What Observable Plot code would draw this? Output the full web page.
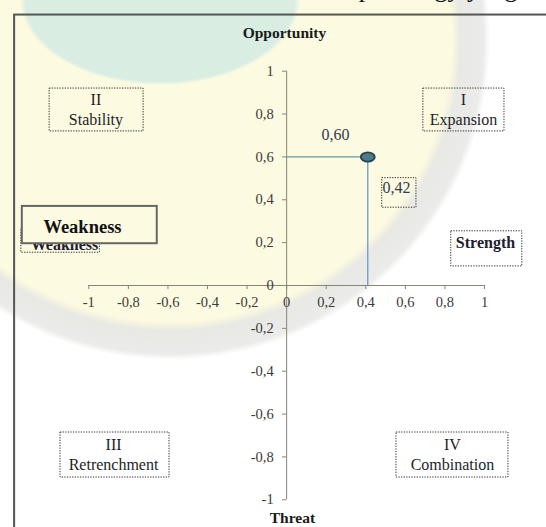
<!DOCTYPE html>
<html>
<head>
<meta charset="utf-8">
<script src="https://cdn.jsdelivr.net/npm/d3@7"></script>
<script src="https://cdn.jsdelivr.net/npm/@observablehq/plot@0.6"></script>
<style>
  html, body { margin: 0; padding: 0; }
  body {
    width: 546px; height: 527px; overflow: hidden;
    background:
      radial-gradient(ellipse 140px 85px at 160px 0px, #d9ede3 96%, rgba(217,237,227,0) 100%),
      radial-gradient(circle 320px at 170px 40px, #fcfae0 88%, #e8e8e4 91%, #ebebea 98%, rgba(255,255,255,0) 100%),
      #ffffff;
  }
  svg { display: block; }
  svg text { font-family: "Liberation Serif", "Times New Roman", serif; }
</style>
</head>
<body>
<script>
// ---- data ----
const point = [{x: 0.41, y: 0.60}];
const pointLabelX = ["0,42"];
const pointLabelY = ["0,60"];

const xTicks = [-1, -0.8, -0.6, -0.4, -0.2, 0, 0.2, 0.4, 0.6, 0.8, 1];
const xTickLabels = ["-1", "-0,8", "-0,6", "-0,4", "-0,2", "0", "0,2", "0,4", "0,6", "0,8", "1"];
const yTicks = [1, 0.8, 0.6, 0.4, 0.2, 0, -0.2, -0.4, -0.6, -0.8, -1];
const yTickLabels = ["1", "0,8", "0,6", "0,4", "0,2", "0", "-0,2", "-0,4", "-0,6", "-0,8", "-1"];

const quadrantNames = ["II\nStability", "I\nExpansion", "III\nRetrenchment", "IV\nCombination"];
const axisTitles = ["Opportunity", "Threat"];
const sideLabels = ["Strength", "Weakness"];
const headerText = "tahap strategy yang";

// ---- annotation layout (data units) ----
const quadrantBoxes = [
  {x1: -1.198, x2: -0.723, y1: 0.719, y2: 0.919, cx: -0.964, cy: 0.826},
  {x1: 0.691, x2: 1.101, y1: 0.719, y2: 0.919, cx: 0.894, cy: 0.826},
  {x1: -1.143, x2: -0.592, y1: -0.896, y2: -0.686, cx: -0.875, cy: -0.784},
  {x1: 0.555, x2: 1.121, y1: -0.896, y2: -0.686, cx: 0.838, cy: -0.784}
].map((b, i) => ({...b, text: quadrantNames[i]}));

const dottedBoxes = [
  {x1: 0.483, x2: 0.656, y1: 0.363, y2: 0.501},   // 0,42 box
  {x1: 0.832, x2: 1.191, y1: 0.089, y2: 0.253},   // Strength box
  {x1: -1.341, x2: -0.944, y1: 0.153, y2: 0.266}  // hidden Weakness box
];
const solidBox = [{x1: -1.336, x2: -0.654, y1: 0.195, y2: 0.369}];
// outer chart box: only its top and left edges are inside the picture
const outerBox = [{x1: -1.375, x2: 1.5, y1: -1.3, y2: 1.262}];

const font = "Liberation Serif";

const ellipseSymbol = {
  draw(c, size) {
    const r = Math.sqrt(size / Math.PI);
    const rx = r, ry = r * 0.66, k = 0.5523;
    c.moveTo(rx, 0);
    c.bezierCurveTo(rx, ry * k, rx * k, ry, 0, ry);
    c.bezierCurveTo(-rx * k, ry, -rx, ry * k, -rx, 0);
    c.bezierCurveTo(-rx, -ry * k, -rx * k, -ry, 0, -ry);
    c.bezierCurveTo(rx * k, -ry, rx, -ry * k, rx, 0);
    c.closePath();
  }
};

const T = (data, opts) => Plot.text(data, {fontFamily: font, ...opts});

const chart = Plot.plot({
  width: 546,
  height: 527,
  marginLeft: 88.3,
  marginRight: 62,
  marginTop: 70.7,
  marginBottom: 27.7,
  x: {domain: [-1, 1], axis: null},
  y: {domain: [-1, 1], axis: null},
  style: {background: "transparent", fontFamily: font, overflow: "visible"},
  marks: [
    // header text (mostly cut off at top)
    T([headerText], {x: 1.167, y: 1.385, text: d => d, textAnchor: "end", fontSize: 26, fill: "#111"}),
    // outer frame
    Plot.rect(outerBox, {x1: "x1", x2: "x2", y1: "y1", y2: "y2", fill: "none", stroke: "#555555", strokeWidth: 2}),
    // axes
    Plot.ruleY([0], {x1: -1, x2: 1, stroke: "#858578", strokeWidth: 1}),
    Plot.ruleX([0], {y1: -1, y2: 1, stroke: "#858578", strokeWidth: 1}),
    Plot.ruleX(xTicks, {x: d => d, y1: 0, y2: -0.019, stroke: "#858578"}),
    Plot.ruleY(yTicks, {y: d => d, x1: -0.021, x2: 0, stroke: "#858578"}),
    T(xTicks, {x: d => d, y: 0, dy: 17, text: (d, i) => xTickLabels[i], fontSize: 14.5, fill: "#3a3a3a"}),
    T(yTicks, {x: 0, y: d => d, dx: -13, text: (d, i) => yTickLabels[i], textAnchor: "end", fontSize: 14.5, fill: "#3a3a3a"}),
    // axis titles
    T([axisTitles[0]], {x: -0.011, y: 1.176, text: d => d, fontSize: 15.5, fontWeight: "bold", fill: "#1a1a1a"}),
    T([axisTitles[1]], {x: 0.029, y: -1.083, text: d => d, fontSize: 15.5, fontWeight: "bold", fill: "#1a1a1a"}),
    // quadrant boxes
    Plot.rect(quadrantBoxes, {x1: "x1", x2: "x2", y1: "y1", y2: "y2", fill: "none",
      stroke: "#333", strokeWidth: 1, strokeDasharray: "1.3,1.3"}),
    T(quadrantBoxes, {x: "cx", y: "cy", text: "text", fontSize: 16, lineHeight: 1.25, fill: "#1e1e28"}),
    // dotted boxes
    Plot.rect(dottedBoxes, {x1: "x1", x2: "x2", y1: "y1", y2: "y2", fill: "none",
      stroke: "#333", strokeWidth: 1, strokeDasharray: "1.3,1.3"}),
    T([sideLabels[0]], {x: 1.005, y: 0.2, text: d => d, fontSize: 16, fontWeight: "bold", fill: "#1e2030"}),
    T([sideLabels[1]], {x: -1.123, y: 0.191, text: d => d, fontSize: 16, fontWeight: "bold", fill: "#1e2030"}),
    // solid Weakness box on top
    Plot.rect(solidBox, {x1: "x1", x2: "x2", y1: "y1", y2: "y2", fill: "#fcfae0", stroke: "#666", strokeWidth: 2}),
    T([sideLabels[1]], {x: -1.032, y: 0.271, text: d => d, fontSize: 18.5, fontWeight: "bold", fill: "#111"}),
    // point guide lines
    Plot.ruleY(point, {y: "y", x1: 0, x2: "x", stroke: "#6a97a0", strokeWidth: 1.2}),
    Plot.ruleX(point, {x: "x", y1: 0, y2: "y", stroke: "#6e98c6", strokeWidth: 1.3}),
    // point
    Plot.dot(point, {x: "x", y: "y", r: 7, symbol: ellipseSymbol, fill: "#4e7b8b", stroke: "#23424d", strokeWidth: 1.8}),
    // point labels
    T(point, {x: 0.247, y: 0.705, text: (d, i) => pointLabelY[i], fontSize: 16, fill: "#333c50"}),
    T(point, {x: 0.484, y: 0.454, text: (d, i) => pointLabelX[i], textAnchor: "start", fontSize: 16, fill: "#333c50"})
  ]
});

document.body.appendChild(chart);
</script>
</body>
</html>
